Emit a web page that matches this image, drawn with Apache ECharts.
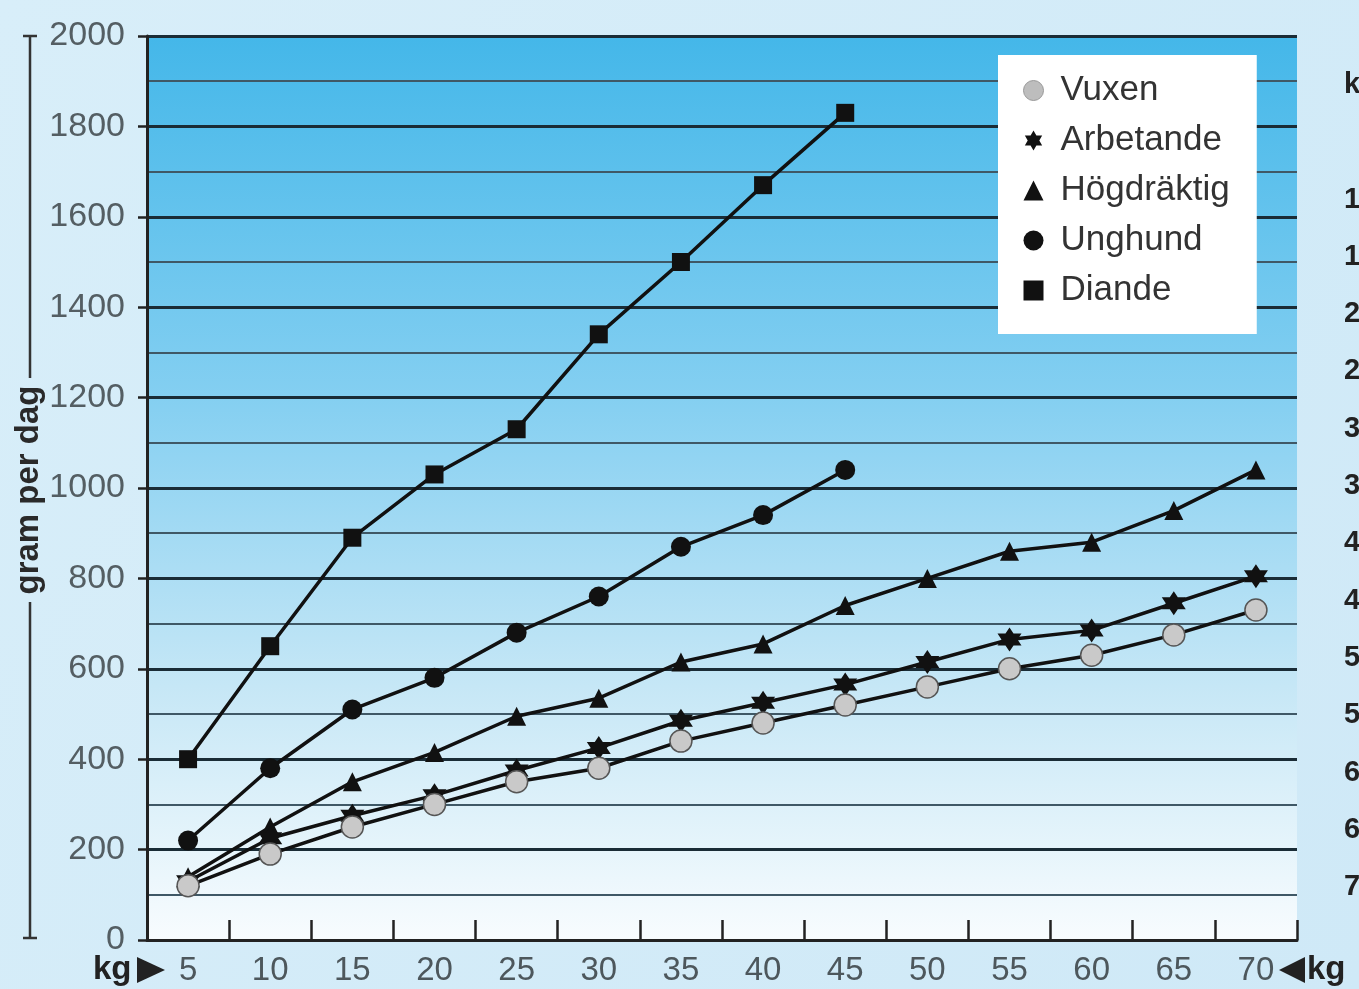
<!DOCTYPE html>
<html><head><meta charset="utf-8">
<script src="https://cdn.jsdelivr.net/npm/echarts@6/dist/echarts.min.js"></script>
<style>html,body{margin:0;padding:0;background:#d4ecf8;}#c{width:1359px;height:989px;}</style>
</head><body><div id="c"></div>
<script>
const categories = ['5','10','15','20','25','30','35','40','45','50','55','60','65','70'];
const vuxen      = [120,190,250,300,350,380,440,480,520,560,600,630,675,730];
const arbetande  = [130,225,275,320,375,425,485,525,565,615,665,685,745,805];
const hogdraktig = [140,250,350,415,495,535,615,655,740,800,860,880,950,1040];
const unghund    = [220,380,510,580,680,760,870,940,1040];
const diande     = [400,650,890,1030,1130,1340,1500,1670,1830];
const yTicks = [0,200,400,600,800,1000,1200,1400,1600,1800,2000];
const rightCol = ['kg','10','15','20','25','30','35','40','45','50','55','60','65','70'];

const FONT = '"Liberation Sans", Arial, sans-serif';
const STAR = 'path://M0,-10 L2.9,-5 L8.66,-5 L5.8,0 L8.66,5 L2.9,5 L0,10 L-2.9,5 L-8.66,5 L-5.8,0 L-8.66,-5 L-2.9,-5 Z';

const chart = echarts.init(document.getElementById('c'));

const rightTexts = rightCol.map((t,i)=>({
  type:'text', left:1344, top:(i===0?85:200+(i-1)*57.3)-15,
  style:{text:t, font:'bold 29px '+FONT, fill:'#222'}
}));

function lineSeries(name, data, symbol, size, itemStyle){
  return {name, type:'line', data, symbol, symbolSize:size,
    lineStyle:{color:'#111', width:3.5}, itemStyle, z:3};
}

chart.setOption({
  animation:false,
  backgroundColor: new echarts.graphic.LinearGradient(0,0,1,1,[{offset:0,color:'#d8eef9'},{offset:1,color:'#cfe9f7'}]),
  grid:{left:147, top:36, right:62, bottom:49, show:true, borderWidth:0,
    backgroundColor:new echarts.graphic.LinearGradient(0,0,0,1,[
      {offset:0,color:'#44b7e9'},{offset:0.4,color:'#84cff1'},{offset:0.72,color:'#c6e7f6'},{offset:1,color:'#f8fcfe'}])},
  xAxis:{type:'category', data:categories, boundaryGap:true,
    axisLine:{lineStyle:{color:'#222', width:3}},
    axisTick:{show:true, inside:true, length:20, interval:0, lineStyle:{color:'#222', width:2.5}},
    axisLabel:{fontFamily:FONT, fontSize:33, color:'#4d575c', margin:14, interval:0},
    splitLine:{show:false}},
  yAxis:{type:'value', min:0, max:2000, interval:200,
    axisLine:{show:true, lineStyle:{color:'#222', width:3}},
    axisTick:{show:true, length:9, lineStyle:{color:'#222', width:2.5}},
    axisLabel:{fontFamily:FONT, fontSize:34, color:'#545e63', margin:22,
      formatter:(v)=> yTicks.includes(v) ? String(v) : ''},
    splitLine:{show:true, lineStyle:{color:'#1a2c36', width:3}},
    minorTick:{show:false, splitNumber:2},
    minorSplitLine:{show:true, lineStyle:{color:'#3f5866', width:1.8}}},
  legend:{orient:'vertical', left:998, top:55, backgroundColor:'#ffffff',
    padding:[18,27,26,25], itemGap:15, itemWidth:20, itemHeight:20,
    textStyle:{fontFamily:FONT, fontSize:35, color:'#333', padding:[0,0,0,12]},
    data:[
      {name:'Vuxen', icon:'circle', itemStyle:{color:'#bdbdbd', borderColor:'#999', borderWidth:1}},
      {name:'Arbetande', icon:STAR, itemStyle:{color:'#111'}},
      {name:'Högdräktig', icon:'triangle', itemStyle:{color:'#111'}},
      {name:'Unghund', icon:'circle', itemStyle:{color:'#111'}},
      {name:'Diande', icon:'rect', itemStyle:{color:'#111'}}
    ]},
  graphic:[
    {type:'line', shape:{x1:30,y1:36,x2:30,y2:378}, style:{stroke:'#333', lineWidth:2.5}},
    {type:'line', shape:{x1:30,y1:602,x2:30,y2:938}, style:{stroke:'#333', lineWidth:2.5}},
    {type:'line', shape:{x1:23,y1:36,x2:37,y2:36}, style:{stroke:'#333', lineWidth:2.5}},
    {type:'line', shape:{x1:23,y1:938,x2:37,y2:938}, style:{stroke:'#333', lineWidth:2.5}},
    {type:'text', x:29, y:490, rotation:Math.PI/2,
      style:{text:'gram per dag', font:'bold 33px '+FONT, fill:'#2a2a2a', align:'center', verticalAlign:'middle'}},
    {type:'text', left:93, top:953, style:{text:'kg', font:'bold 33px '+FONT, fill:'#222'}},
    {type:'polygon', shape:{points:[[137,957],[137,983],[165,970]]}, style:{fill:'#222'}},
    {type:'polygon', shape:{points:[[1279,970],[1305,957],[1305,983]]}, style:{fill:'#222'}},
    {type:'text', left:1307, top:953, style:{text:'kg', font:'bold 33px '+FONT, fill:'#222'}}
  ].concat(rightTexts),
  series:[
    lineSeries('Diande', diande, 'rect', 18, {color:'#111'}),
    lineSeries('Unghund', unghund, 'circle', 20, {color:'#111'}),
    lineSeries('Högdräktig', hogdraktig, 'triangle', 19, {color:'#111'}),
    lineSeries('Arbetande', arbetande, STAR, 24, {color:'#111'}),
    lineSeries('Vuxen', vuxen, 'circle', 22, {color:'#c9c9c9', borderColor:'#555', borderWidth:1.5})
  ]
});
</script></body></html>
